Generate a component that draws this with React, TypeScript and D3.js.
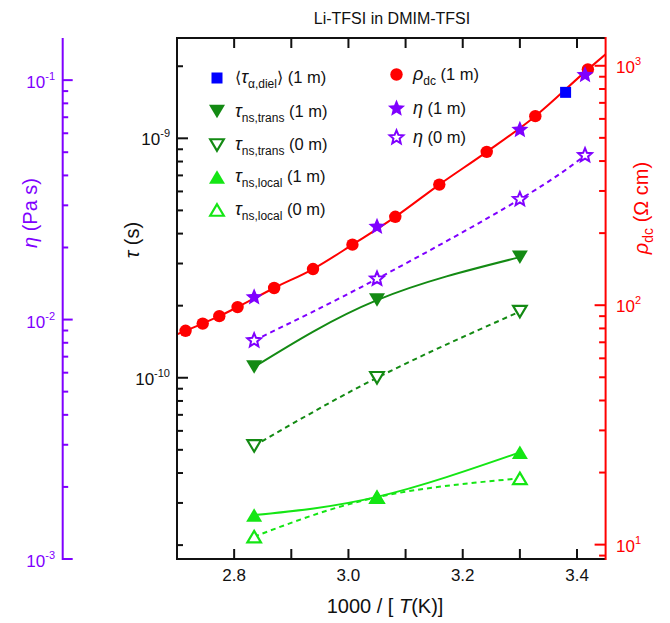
import React from 'react';
import * as d3 from 'd3';

// ---------- data ----------
const xDomain = [2.7, 3.45];
const xTicks = [2.8, 2.9, 3.0, 3.1, 3.2, 3.3, 3.4];
const xTickLabels = [2.8, 3.0, 3.2, 3.4];

const tauDomain = [10 ** -10.757, 10 ** -8.581];
const rhoDomain = [10 ** 0.94, 10 ** 3.116];
const etaDomain = [1e-3, 10 ** -0.824];
const tauMajorExp = [-10, -9];
const rhoMajorExp = [1, 2, 3];
const etaMajorExp = [-3, -2, -1];

// rho_dc (1 m)
const invTRho = [2.715, 2.745, 2.774, 2.806, 2.870, 2.938, 3.007, 3.082, 3.159, 3.242, 3.327, 3.419];
const rho1m = [78.2, 83.8, 90.0, 98.2, 118, 141.6, 179, 234, 319, 437, 616, 966];
// fit curve through rho_dc (extends to the frame)
const rhoFitX = [2.70, 2.715, 2.745, 2.774, 2.806, 2.870, 2.938, 3.007, 3.082, 3.159, 3.242, 3.327, 3.419, 3.45];
const rhoFitY = [75.6, 78.2, 83.8, 90.0, 98.2, 118, 141.6, 179, 234, 319, 437, 616, 966, 1116];

// viscosity
const invTEta = [2.835, 3.05, 3.30, 3.414];
const eta1m = [0.0124, 0.0244, 0.0620, 0.105];
const eta0m = [0.00818, 0.0148, 0.0318, 0.0485];

// dielectric
const invTDiel = [3.38];
const tauDiel1m = [1.556e-9];

// neutron scattering
const invTNs = [2.835, 3.05, 3.30];
const tauTrans1m = [1.11e-10, 2.11e-10, 3.19e-10];
const tauTrans0m = [5.19e-11, 1.0e-10, 1.89e-10];
const tauLocal1m = [2.67e-11, 3.18e-11, 4.88e-11];
const tauLocal0m = [2.17e-11, 3.17e-11, 3.80e-11];

// ---------- styling ----------
const W = 670, H = 623;
const L = 177, R = 605.6, T = 38, B = 559;
const ETA_X = 62.7;
const PURPLE = '#7F00FF';
const RED = '#FF0000';
const BLUE = '#0000FF';
const DGREEN = '#138A13';
const LGREEN = '#14E614';
const FONT = 'Arial, "Liberation Sans", Helvetica, sans-serif';

const x = d3.scaleLinear().domain(xDomain).range([L, R]);
const yTau = d3.scaleLog().domain(tauDomain).range([B, T]);
const yRho = d3.scaleLog().domain(rhoDomain).range([B, T]);
const yEta = d3.scaleLog().domain(etaDomain).range([B, T]);

function logTicks(domain: number[]) {
  const out: { v: number; major: boolean }[] = [];
  const e0 = Math.floor(Math.log10(domain[0]));
  const e1 = Math.ceil(Math.log10(domain[1]));
  for (let e = e0; e <= e1; e++) {
    for (let m = 1; m <= 9; m++) {
      const v = m * 10 ** e;
      if (v >= domain[0] * 0.9999 && v <= domain[1] * 1.0001) out.push({ v, major: m === 1 });
    }
  }
  return out;
}

// marker paths
const triUp = (w: number, h: number) => `M0,${-h / 2}L${w},${h / 2}L${-w},${h / 2}Z`;
const triDown = (w: number, h: number) => `M0,${h / 2}L${w},${-h / 2}L${-w},${-h / 2}Z`;
function starPath(Ro: number, ratio = 0.45) {
  const pts: string[] = [];
  for (let i = 0; i < 10; i++) {
    const r = i % 2 === 0 ? Ro : Ro * ratio;
    const a = -Math.PI / 2 + (i * Math.PI) / 5;
    pts.push(`${(r * Math.cos(a)).toFixed(2)},${(r * Math.sin(a)).toFixed(2)}`);
  }
  return 'M' + pts.join('L') + 'Z';
}

type MarkerKind = 'square' | 'circle' | 'triDownF' | 'triDownO' | 'triUpF' | 'triUpO' | 'starF' | 'starO';

function Marker({ kind, cx, cy, color }: { kind: MarkerKind; cx: number; cy: number; color: string }) {
  const t = `translate(${cx},${cy})`;
  switch (kind) {
    case 'square':
      return <rect x={cx - 5.5} y={cy - 5.5} width={11} height={11} fill={color} />;
    case 'circle':
      return <circle cx={cx} cy={cy} r={6.2} fill={color} />;
    case 'triDownF':
      return <path transform={t} d={triDown(8, 13.5)} fill={color} />;
    case 'triDownO':
      return <path transform={t} d={triDown(6.8, 11.5)} fill="white" stroke={color} strokeWidth={2.2} strokeLinejoin="miter" />;
    case 'triUpF':
      return <path transform={t} d={triUp(8, 13.5)} fill={color} />;
    case 'triUpO':
      return <path transform={t} d={triUp(6.8, 11.5)} fill="white" stroke={color} strokeWidth={2.2} />;
    case 'starF':
      return <path transform={t} d={starPath(9)} fill={color} />;
    case 'starO':
      return <path transform={t} d={starPath(7.2)} fill="white" stroke={color} strokeWidth={2} />;
  }
  return null;
}

const lineGen = (ys: (v: number) => number, curve: d3.CurveFactory) =>
  d3
    .line<[number, number]>()
    .x((d) => x(d[0]))
    .y((d) => ys(d[1]))
    .curve(curve);

const zip = (a: number[], b: number[]) => a.map((v, i) => [v, b[i]] as [number, number]);

export default function App() {
  const tauTicks = logTicks(tauDomain);
  const rhoTicks = logTicks(rhoDomain);
  const etaTicks = logTicks(etaDomain);

  const tauLine = lineGen((v) => yTau(v), d3.curveNatural);
  const rhoLine = lineGen((v) => yRho(v), d3.curveMonotoneX);
  const etaLine = lineGen((v) => yEta(v), d3.curveNatural);

  const legend1: { kind: MarkerKind; color: string; y: number; label: React.ReactNode }[] = [
    {
      kind: 'square', color: BLUE, y: 78,
      label: (
        <>
          <tspan fontFamily='"DejaVu Sans", sans-serif' fontSize={16}>⟨</tspan>
          <tspan fontStyle="italic" fontSize={18}>τ</tspan>
          <tspan fontSize={12} dy={5}>α,diel</tspan>
          <tspan dy={-5} fontFamily='"DejaVu Sans", sans-serif' fontSize={16}>⟩</tspan>
          <tspan> (1 m)</tspan>
        </>
      ),
    },
    {
      kind: 'triDownF', color: DGREEN, y: 111.5,
      label: (
        <>
          <tspan fontStyle="italic" fontSize={18}>τ</tspan>
          <tspan fontSize={12} dy={5}>ns,trans</tspan>
          <tspan dy={-5}> (1 m)</tspan>
        </>
      ),
    },
    {
      kind: 'triDownO', color: DGREEN, y: 145,
      label: (
        <>
          <tspan fontStyle="italic" fontSize={18}>τ</tspan>
          <tspan fontSize={12} dy={5}>ns,trans</tspan>
          <tspan dy={-5}> (0 m)</tspan>
        </>
      ),
    },
    {
      kind: 'triUpF', color: LGREEN, y: 177,
      label: (
        <>
          <tspan fontStyle="italic" fontSize={18}>τ</tspan>
          <tspan fontSize={12} dy={5}>ns,local</tspan>
          <tspan dy={-5}> (1 m)</tspan>
        </>
      ),
    },
    {
      kind: 'triUpO', color: LGREEN, y: 210,
      label: (
        <>
          <tspan fontStyle="italic" fontSize={18}>τ</tspan>
          <tspan fontSize={12} dy={5}>ns,local</tspan>
          <tspan dy={-5}> (0 m)</tspan>
        </>
      ),
    },
  ];
  const legend2: { kind: MarkerKind; color: string; y: number; label: React.ReactNode }[] = [
    {
      kind: 'circle', color: RED, y: 74.5,
      label: (
        <>
          <tspan fontStyle="italic" fontSize={18}>ρ</tspan>
          <tspan fontSize={12} dy={5}>dc</tspan>
          <tspan dy={-5}> (1 m)</tspan>
        </>
      ),
    },
    {
      kind: 'starF', color: PURPLE, y: 108.5,
      label: (
        <>
          <tspan fontStyle="italic" fontSize={18}>η</tspan>
          <tspan> (1 m)</tspan>
        </>
      ),
    },
    {
      kind: 'starO', color: PURPLE, y: 137.5,
      label: (
        <>
          <tspan fontStyle="italic" fontSize={18}>η</tspan>
          <tspan> (0 m)</tspan>
        </>
      ),
    },
  ];

  return (
    <svg width={W} height={H} style={{ position: 'absolute', left: 0, top: 0, background: 'white' }} fontFamily={FONT}>
      <defs>
        <clipPath id="plotclip">
          <rect x={L} y={T} width={R - L} height={B - T} />
        </clipPath>
      </defs>
      <rect x={0} y={0} width={W} height={H} fill="white" />

      {/* title */}
      <text x={392} y={24} fontSize={16} textAnchor="middle" fill="#111">Li-TFSI in DMIM-TFSI</text>

      {/* lines */}
      <g clipPath="url(#plotclip)" fill="none" strokeWidth={2}>
        <path d={rhoLine(zip(rhoFitX, rhoFitY)) || ''} stroke={RED} />
        <path d={etaLine(zip(invTEta, eta0m)) || ''} stroke={PURPLE} strokeDasharray="5,4" />
        <path d={tauLine(zip(invTNs, tauTrans1m)) || ''} stroke={DGREEN} />
        <path d={tauLine(zip(invTNs, tauTrans0m)) || ''} stroke={DGREEN} strokeDasharray="5,4" />
        <path d={tauLine(zip(invTNs, tauLocal1m)) || ''} stroke={LGREEN} />
        <path d={tauLine(zip(invTNs, tauLocal0m)) || ''} stroke={LGREEN} strokeDasharray="5,4" />
      </g>

      {/* markers */}
      <g>
        {invTRho.map((t, i) => <Marker key={'r' + i} kind="circle" cx={x(t)} cy={yRho(rho1m[i])} color={RED} />)}
        {invTDiel.map((t, i) => <Marker key={'d' + i} kind="square" cx={x(t)} cy={yTau(tauDiel1m[i])} color={BLUE} />)}
        {invTEta.map((t, i) => <Marker key={'e1' + i} kind="starF" cx={x(t)} cy={yEta(eta1m[i])} color={PURPLE} />)}
        {invTEta.map((t, i) => <Marker key={'e0' + i} kind="starO" cx={x(t)} cy={yEta(eta0m[i])} color={PURPLE} />)}
        {invTNs.map((t, i) => <Marker key={'t1' + i} kind="triDownF" cx={x(t)} cy={yTau(tauTrans1m[i])} color={DGREEN} />)}
        {invTNs.map((t, i) => <Marker key={'t0' + i} kind="triDownO" cx={x(t)} cy={yTau(tauTrans0m[i])} color={DGREEN} />)}
        {invTNs.map((t, i) => <Marker key={'l0' + i} kind="triUpO" cx={x(t)} cy={yTau(tauLocal0m[i])} color={LGREEN} />)}
        {invTNs.map((t, i) => <Marker key={'l1' + i} kind="triUpF" cx={x(t)} cy={yTau(tauLocal1m[i])} color={LGREEN} />)}
      </g>

      {/* frame */}
      <g stroke="#111" strokeWidth={2} fill="none">
        <line x1={L} y1={T} x2={L} y2={B} />
        <line x1={L - 1} y1={B} x2={R} y2={B} />
        <line x1={L - 1} y1={T} x2={R} y2={T} />
      </g>

      {/* x ticks (bottom & top, inward) */}
      <g stroke="#111" strokeWidth={2}>
        {xTicks.map((t) => (
          <g key={'xt' + t}>
            <line x1={x(t)} x2={x(t)} y1={B} y2={B - 10} />
            <line x1={x(t)} x2={x(t)} y1={T} y2={T + 10} />
          </g>
        ))}
      </g>
      <g fontSize={17} fill="#111" textAnchor="middle">
        {xTickLabels.map((t) => (
          <text key={'xl' + t} x={x(t)} y={581}>{t.toFixed(1)}</text>
        ))}
      </g>
      <text x={385} y={613} fontSize={20} textAnchor="middle" fill="#111">
        1000 / [ <tspan fontStyle="italic">T</tspan>(K)]
      </text>

      {/* tau axis (left spine) */}
      <g stroke="#111" strokeWidth={2}>
        {tauTicks.map((tk, i) => (
          <line key={'tt' + i} x1={L} x2={L + (tk.major ? 11 : 6)} y1={yTau(tk.v)} y2={yTau(tk.v)} />
        ))}
      </g>
      <g fontSize={17} fill="#111" textAnchor="end">
        {tauMajorExp.map((e) => (
          <text key={'tl' + e} x={170} y={yTau(10 ** e) + 7}>
            10<tspan fontSize={11} dy={-8}>{String(e)}</tspan>
          </text>
        ))}
      </g>
      <text transform={`translate(139,240) rotate(-90)`} fontSize={20} textAnchor="middle" fill="#111">
        <tspan fontStyle="italic">τ</tspan> (s)
      </text>

      {/* rho axis (right) */}
      <line x1={R} x2={R} y1={T - 1} y2={B + 1} stroke={RED} strokeWidth={2} />
      <g stroke={RED} strokeWidth={2}>
        {rhoTicks.map((tk, i) => (
          <line key={'rt' + i} x1={R} x2={R - (tk.major ? 11 : 6.5)} y1={yRho(tk.v)} y2={yRho(tk.v)} />
        ))}
      </g>
      <g fontSize={17} fill={RED} textAnchor="start">
        {rhoMajorExp.map((e) => (
          <text key={'rl' + e} x={616} y={yRho(10 ** e) + 7}>
            10<tspan fontSize={11} dy={-8}>{String(e)}</tspan>
          </text>
        ))}
      </g>
      <text transform={`translate(648,208) rotate(-90)`} fontSize={20} textAnchor="middle" fill={RED}>
        <tspan fontStyle="italic">ρ</tspan>
        <tspan fontSize={14} dy={5}>dc</tspan>
        <tspan dy={-5}> (Ω cm)</tspan>
      </text>

      {/* eta axis (far left) */}
      <line x1={ETA_X} x2={ETA_X} y1={T} y2={B + 1} stroke={PURPLE} strokeWidth={2} />
      <g stroke={PURPLE} strokeWidth={2}>
        {etaTicks.map((tk, i) => (
          <line key={'et' + i} x1={ETA_X} x2={ETA_X + (tk.major ? 10 : 5.5)} y1={yEta(tk.v)} y2={yEta(tk.v)} />
        ))}
      </g>
      <g fontSize={17} fill={PURPLE} textAnchor="end">
        {etaMajorExp.map((e) => (
          <text key={'el' + e} x={55} y={yEta(10 ** e) + 8}>
            10<tspan fontSize={11} dy={-8}>{String(e)}</tspan>
          </text>
        ))}
      </g>
      <text transform={`translate(37,213) rotate(-90)`} fontSize={20} textAnchor="middle" fill={PURPLE}>
        <tspan fontStyle="italic">η</tspan> (Pa s)
      </text>

      {/* legend */}
      <g fontSize={16.5} fill="#111">
        {legend1.map((it, i) => (
          <g key={'lg1' + i}>
            <Marker kind={it.kind} cx={217} cy={it.y} color={it.color} />
            <text x={235} y={it.y + 5}>{it.label}</text>
          </g>
        ))}
        {legend2.map((it, i) => (
          <g key={'lg2' + i}>
            <Marker kind={it.kind} cx={396.5} cy={it.y} color={it.color} />
            <text x={413} y={it.y + 5}>{it.label}</text>
          </g>
        ))}
      </g>
    </svg>
  );
}
